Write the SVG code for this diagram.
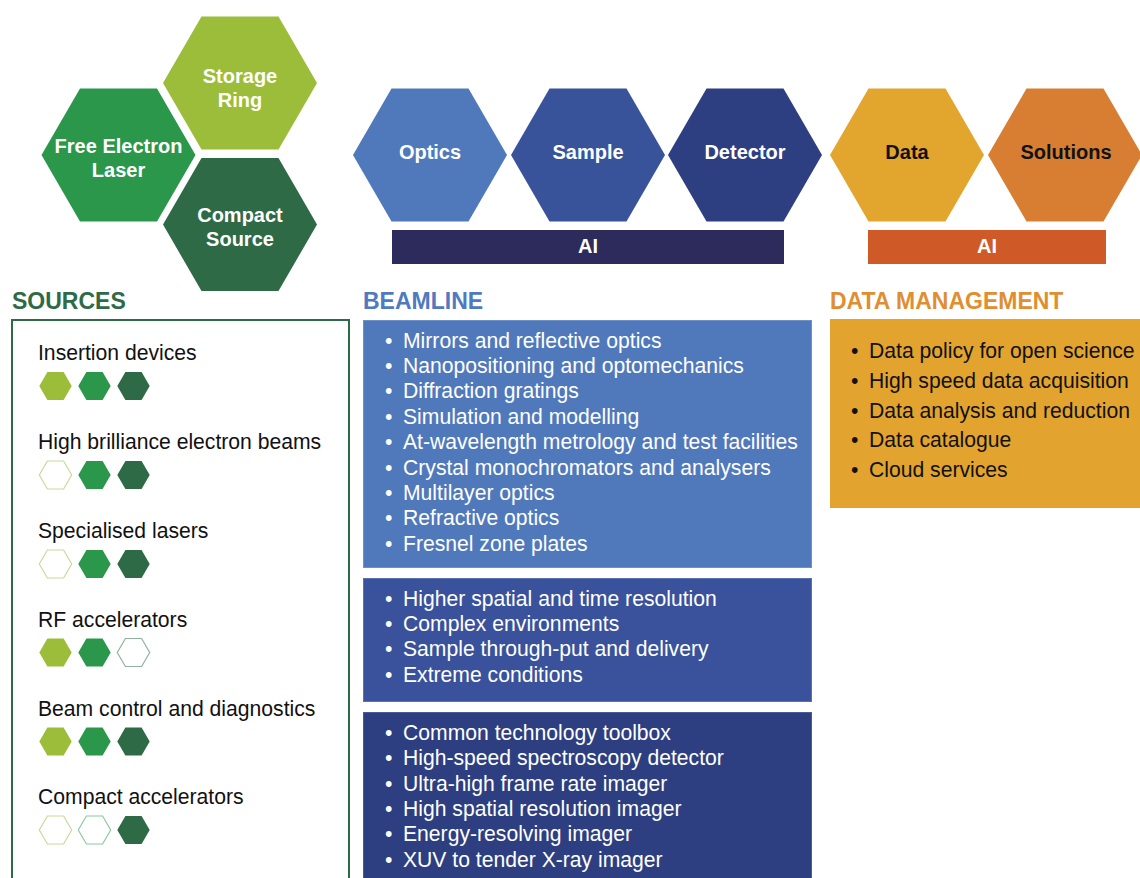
<svg xmlns="http://www.w3.org/2000/svg" width="1140" height="878" viewBox="0 0 1140 878">
<defs>
<style>
.hl{font-family:"Liberation Sans",Arial,sans-serif;font-weight:bold;font-size:20px;fill:#fff;text-anchor:middle}
.hd{font-family:"Liberation Sans",Arial,sans-serif;font-weight:bold;font-size:20px;fill:#111;text-anchor:middle}
.h2{font-family:"Liberation Sans",Arial,sans-serif;font-weight:bold;font-size:23px}
.bt{font-family:"Liberation Sans",Arial,sans-serif;font-size:21.15px;fill:#fff}
.dt{font-family:"Liberation Sans",Arial,sans-serif;font-size:21.15px;fill:#111}
.st{font-family:"Liberation Sans",Arial,sans-serif;font-size:21.15px;fill:#111}
</style>
<polygon id="hexL" points="-77,0 -38.5,-66.5 38.5,-66.5 77,0 38.5,66.5 -38.5,66.5"/>
<polygon id="hexS" points="-16.2,0 -8.1,-14 8.1,-14 16.2,0 8.1,14 -8.1,14"/>
</defs>
<rect width="1140" height="878" fill="#fff"/>

<g id="storage-ring">
<use href="#hexL" x="240" y="83" fill="#9bbd3a"/>
<text class="hl" x="240" y="82.7">Storage</text>
<text class="hl" x="240" y="107">Ring</text>
</g>
<g id="free-electron-laser">
<use href="#hexL" x="118.5" y="155" fill="#2a974b"/>
<text class="hl" x="118.5" y="153.3">Free Electron</text>
<text class="hl" x="118.5" y="177">Laser</text>
</g>
<g id="compact-source">
<use href="#hexL" x="240" y="224.5" fill="#2e6a45"/>
<text class="hl" x="240" y="222.3">Compact</text>
<text class="hl" x="240" y="246">Source</text>
</g>

<g id="optics">
<use href="#hexL" x="430" y="155" fill="#5079bb"/>
<text class="hl" x="430" y="159.3">Optics</text>
</g>
<g id="sample">
<use href="#hexL" x="588" y="155" fill="#39539b"/>
<text class="hl" x="588" y="159.3">Sample</text>
</g>
<g id="detector">
<use href="#hexL" x="745" y="155" fill="#2d3f81"/>
<text class="hl" x="745" y="159.3">Detector</text>
</g>
<g id="ai-beamline">
<rect x="392" y="230" width="392" height="34" fill="#2d2b5b"/>
<text class="hl" x="588" y="253.3">AI</text>
</g>

<g id="data">
<use href="#hexL" x="907" y="155" fill="#e2a62f"/>
<text class="hd" x="907" y="159.3">Data</text>
</g>
<g id="solutions">
<use href="#hexL" x="1065" y="155" fill="#d87e33"/>
<text class="hd" x="1066" y="159.3">Solutions</text>
</g>
<g id="ai-data">
<rect x="868" y="230" width="238" height="34" fill="#cf5a27"/>
<text class="hl" x="987" y="253.3">AI</text>
</g>

<g id="connectors"></g>

<g id="sources">
<text class="h2" x="12" y="309" fill="#2e6a45">SOURCES</text>
<rect x="12" y="320" width="337" height="580" fill="none" stroke="#2e6a45" stroke-width="2"/>
<text class="st" x="38" y="360">Insertion devices</text>
<use href="#hexS" x="55.5" y="386" fill="#9bbd3a"/>
<use href="#hexS" x="94.5" y="386" fill="#2a974b"/>
<use href="#hexS" x="133.5" y="386" fill="#2e6a45"/>
<text class="st" x="38" y="449">High brilliance electron beams</text>
<use href="#hexS" x="55.5" y="475" fill="#fff" stroke="#c9d99a" stroke-width="1.2"/>
<use href="#hexS" x="94.5" y="475" fill="#2a974b"/>
<use href="#hexS" x="133.5" y="475" fill="#2e6a45"/>
<text class="st" x="38" y="538">Specialised lasers</text>
<use href="#hexS" x="55.5" y="564" fill="#fff" stroke="#c9d99a" stroke-width="1.2"/>
<use href="#hexS" x="94.5" y="564" fill="#2a974b"/>
<use href="#hexS" x="133.5" y="564" fill="#2e6a45"/>
<text class="st" x="38" y="627">RF accelerators</text>
<use href="#hexS" x="55.5" y="652.5" fill="#9bbd3a"/>
<use href="#hexS" x="94.5" y="652.5" fill="#2a974b"/>
<use href="#hexS" x="133.5" y="652.5" fill="#fff" stroke="#8fb39d" stroke-width="1.2"/>
<text class="st" x="38" y="715.5">Beam control and diagnostics</text>
<use href="#hexS" x="55.5" y="741.5" fill="#9bbd3a"/>
<use href="#hexS" x="94.5" y="741.5" fill="#2a974b"/>
<use href="#hexS" x="133.5" y="741.5" fill="#2e6a45"/>
<text class="st" x="38" y="804">Compact accelerators</text>
<use href="#hexS" x="55.5" y="830" fill="#fff" stroke="#c9d99a" stroke-width="1.2"/>
<use href="#hexS" x="94.5" y="830" fill="#fff" stroke="#8ccaa0" stroke-width="1.2"/>
<use href="#hexS" x="133.5" y="830" fill="#2e6a45"/>
</g>

<g id="beamline">
<text class="h2" x="363" y="309" fill="#4e7bc0">BEAMLINE</text>
<rect x="363.5" y="320.5" width="448" height="247" fill="#5079bb" stroke="#6d90c8" stroke-width="1"/>
<text class="bt" x="385" y="347.5">•</text><text class="bt" x="403" y="347.5">Mirrors and reflective optics</text>
<text class="bt" x="385" y="372.9">•</text><text class="bt" x="403" y="372.9">Nanopositioning and optomechanics</text>
<text class="bt" x="385" y="398.3">•</text><text class="bt" x="403" y="398.3">Diffraction gratings</text>
<text class="bt" x="385" y="423.7">•</text><text class="bt" x="403" y="423.7">Simulation and modelling</text>
<text class="bt" x="385" y="449.1">•</text><text class="bt" x="403" y="449.1">At-wavelength metrology and test facilities</text>
<text class="bt" x="385" y="474.5">•</text><text class="bt" x="403" y="474.5">Crystal monochromators and analysers</text>
<text class="bt" x="385" y="499.9">•</text><text class="bt" x="403" y="499.9">Multilayer optics</text>
<text class="bt" x="385" y="525.3">•</text><text class="bt" x="403" y="525.3">Refractive optics</text>
<text class="bt" x="385" y="550.7">•</text><text class="bt" x="403" y="550.7">Fresnel zone plates</text>

<rect x="363.5" y="578.5" width="448" height="123" fill="#39529b" stroke="#5a72b0" stroke-width="1"/>
<text class="bt" x="385" y="605.7">•</text><text class="bt" x="403" y="605.7">Higher spatial and time resolution</text>
<text class="bt" x="385" y="631">•</text><text class="bt" x="403" y="631">Complex environments</text>
<text class="bt" x="385" y="656.3">•</text><text class="bt" x="403" y="656.3">Sample through-put and delivery</text>
<text class="bt" x="385" y="681.6">•</text><text class="bt" x="403" y="681.6">Extreme conditions</text>

<rect x="363.5" y="712.5" width="448" height="180" fill="#2d3f80" stroke="#4a5a98" stroke-width="1"/>
<text class="bt" x="385" y="740">•</text><text class="bt" x="403" y="740">Common technology toolbox</text>
<text class="bt" x="385" y="765.3">•</text><text class="bt" x="403" y="765.3">High-speed spectroscopy detector</text>
<text class="bt" x="385" y="790.6">•</text><text class="bt" x="403" y="790.6">Ultra-high frame rate imager</text>
<text class="bt" x="385" y="815.9">•</text><text class="bt" x="403" y="815.9">High spatial resolution imager</text>
<text class="bt" x="385" y="841.2">•</text><text class="bt" x="403" y="841.2">Energy-resolving imager</text>
<text class="bt" x="385" y="866.5">•</text><text class="bt" x="403" y="866.5">XUV to tender X-ray imager</text>
</g>

<g id="data-management">
<text class="h2" x="830" y="308.5" fill="#e08e31">DATA MANAGEMENT</text>
<rect x="830" y="319" width="320" height="189" fill="#e2a42e"/>
<text class="dt" x="851" y="358.3">•</text><text class="dt" x="869" y="358.3">Data policy for open science</text>
<text class="dt" x="851" y="387.9">•</text><text class="dt" x="869" y="387.9">High speed data acquisition</text>
<text class="dt" x="851" y="417.5">•</text><text class="dt" x="869" y="417.5">Data analysis and reduction</text>
<text class="dt" x="851" y="447.1">•</text><text class="dt" x="869" y="447.1">Data catalogue</text>
<text class="dt" x="851" y="476.7">•</text><text class="dt" x="869" y="476.7">Cloud services</text>
</g>
</svg>
